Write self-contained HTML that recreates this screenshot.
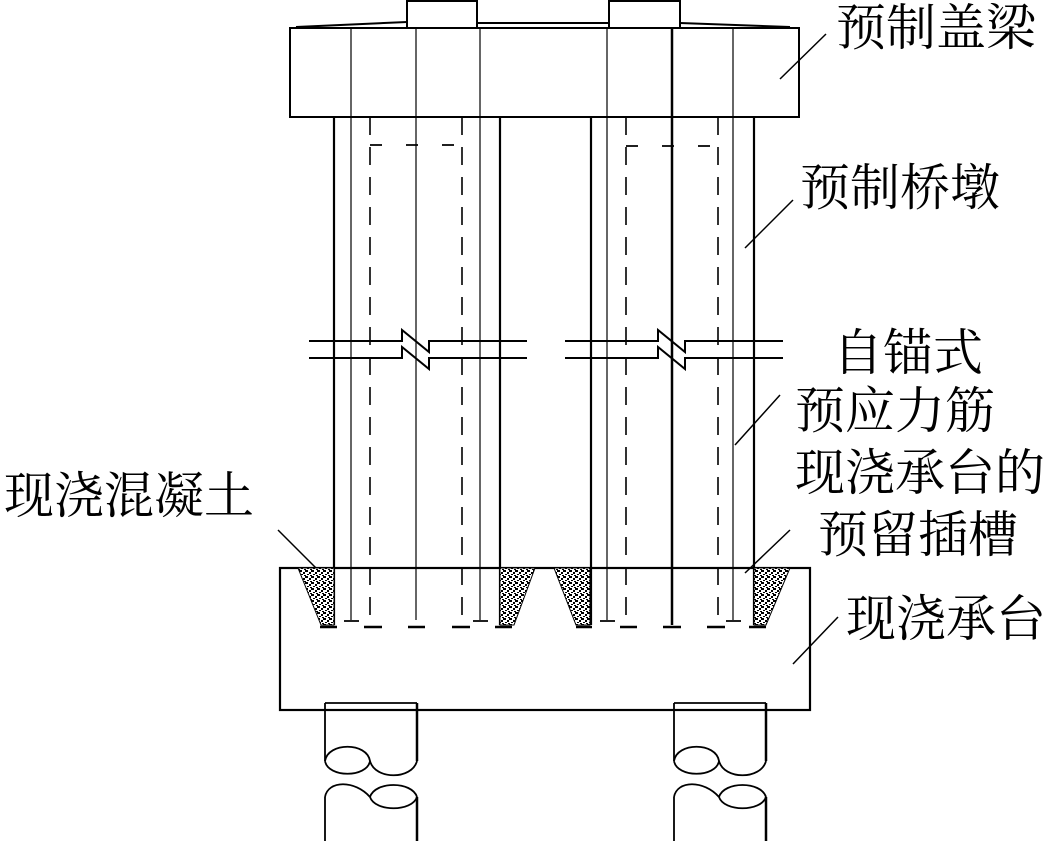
<!DOCTYPE html>
<html><head><meta charset="utf-8"><style>
html,body{margin:0;padding:0;background:#fff;}
svg{display:block}
text{font-family:"Liberation Serif","Noto Serif CJK SC",serif;font-size:50px;fill:#000}
</style></head><body>
<svg width="1058" height="841" viewBox="0 0 1058 841" xmlns="http://www.w3.org/2000/svg">
<defs>
<pattern id="dots" width="6" height="6" patternUnits="userSpaceOnUse">
<rect width="6" height="6" fill="#fff"/>
<rect x="0" y="0" width="2" height="2" fill="#000"/><rect x="3" y="2" width="2" height="2" fill="#000"/>
<rect x="1" y="4" width="2" height="1" fill="#000"/><rect x="4" y="5" width="2" height="1" fill="#000"/>
<rect x="5" y="0" width="1" height="2" fill="#000"/>
</pattern>
</defs>
<g stroke="#000" fill="none">
<rect x="407" y="1" width="70" height="27" stroke-width="2"/>
<rect x="609" y="1" width="71" height="27" stroke-width="2"/>
<path d="M296 27 L407 22 M477 23 L609 23 M680 23 L790 27" stroke-width="2"/>
<rect x="290" y="28" width="509" height="89" stroke-width="2"/>
<path d="M351 28V620 M416 28V620 M480 28V620 M607 28V620 M733 28V620" stroke-width="1.2"/>
<path d="M672 28V625" stroke-width="2.5"/>
<path d="M334 117V625 M500 117V625 M591 117V625 M754 117V625" stroke-width="2.2"/>
<path d="M370 117V625 M462 117V625 M626 117V625 M718 117V625" stroke-width="1.6" stroke-dasharray="18,12"/>
<path d="M370 145H462 M626 146H718" stroke-width="1.8" stroke-dasharray="12,24"/>
<!-- break lines -->
<path d="M309 341H402V330L429 352V341H527 M309 358H402V347L429 369V358H527" stroke-width="2"/>
<path d="M565 341H658V330L685 352V341H783 M565 358H658V347L685 369V358H783" stroke-width="2"/>
<rect x="280" y="568" width="530" height="142" stroke-width="2.2"/>
<path d="M298 568H334V625H321Z" fill="url(#dots)" stroke-width="1"/>
<path d="M500 568H535L514 625H500Z" fill="url(#dots)" stroke-width="1"/>
<path d="M554 568H590V625H576Z" fill="url(#dots)" stroke-width="1"/>
<path d="M754 568H790L766 625H754Z" fill="url(#dots)" stroke-width="1"/>
<path d="M344 621H359 M473 621H488 M600 621H615 M726 621H741" stroke-width="1.8"/>
<path d="M364 627H382 M408 627H425 M452 627H470 M495 627H512 M620 627H637 M663 627H681 M707 627H725 M749 627H766 M320 627H337 M576 627H592" stroke-width="2.5"/>
<!-- piles -->
<g stroke-width="1.8">
<path d="M325 703H417 M325 703V761 M417 703V761 M325 797V841 M417 797V841"/>
<path d="M325 761 C328 742 367 742 370 761 M325 761 C328 778 367 778 370 761 M370 761 C375 780 412 780 417 761"/>
<path d="M325 797 C328 780 355 780 370 797 M370 797 C375 781 412 781 417 797 M370 797 C375 812 412 812 417 797"/>
<path d="M674 703H766 M674 703V761 M766 703V761 M674 797V841 M766 797V841"/>
<path d="M674 761 C677 742 716 742 719 761 M674 761 C677 778 716 778 719 761 M719 761 C724 780 761 780 766 761"/>
<path d="M674 797 C677 780 704 780 719 797 M719 797 C724 781 761 781 766 797 M719 797 C724 812 761 812 766 797"/>
</g>
<path d="M417 703V761 M417 797V841 M766 703V761 M766 797V841" stroke-width="2.5"/>
<path d="M780 79L826 34 M745 248L793 200 M735 445L780 395 M745 573L790 530 M793 664L838 617 M278 530L316 568" stroke-width="1.5"/>
</g>
<text x="836" y="45">预制盖梁</text>
<text x="800" y="205">预制桥墩</text>
<text x="833" y="370">自锚式</text>
<text x="795" y="428">预应力筋</text>
<text x="795" y="490">现浇承台的</text>
<text x="818" y="552">预留插槽</text>
<text x="846" y="636">现浇承台</text>
<text x="4" y="513">现浇混凝土</text>
</svg>
</body></html>
